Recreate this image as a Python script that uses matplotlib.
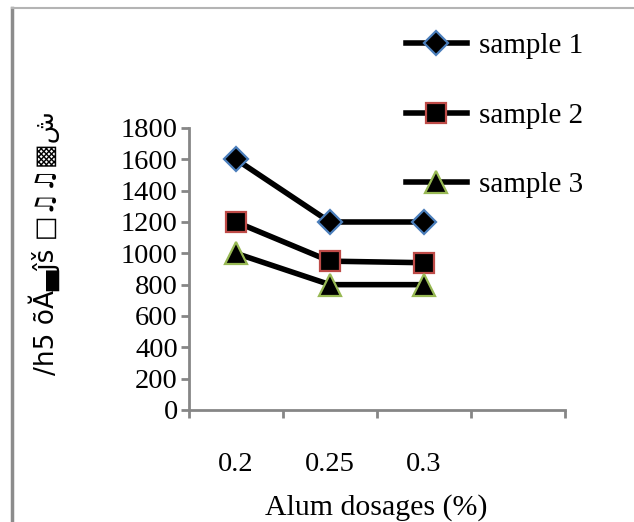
import numpy as np
import matplotlib.pyplot as plt
from matplotlib.lines import Line2D

# data
dosages = ['0.2', '0.25', '0.3']
sample1 = [1600, 1200, 1200]
sample2 = [1200, 950, 940]
sample3 = [1000, 800, 800]
y_label = '/h5 õĂ▄ĵš □♫♫▩ش'

plt.rcParams['font.family'] = ['Liberation Serif', 'DejaVu Sans']

fig = plt.figure(figsize=(6.34, 5.22), dpi=100)
ax = fig.add_axes([0.298, 0.2146, 0.593, 0.5402])

x = np.arange(len(dosages))
ax.plot(x, sample1, color='black', lw=4.0, marker='D', ms=12.5,
        mfc='black', mec='#4a7ebb', mew=1.6, label='sample 1', zorder=3)
ax.plot(x, sample2, color='black', lw=4.0, marker='s', ms=15,
        mfc='black', mec='#be4b48', mew=1.6, label='sample 2', zorder=3)
ax.plot(x, sample3, color='black', lw=4.0, marker='^', ms=16,
        mfc='black', mec='#98b954', mew=1.6, label='sample 3', zorder=3)

# one empty category on the right, like the original
ax.set_xlim(-0.5, len(dosages) + 0.5)
ax.set_ylim(0, 1800)
ax.set_yticks(range(0, 1801, 200))
ax.set_xticks(np.arange(-0.5, len(dosages) + 1, 1.0))
ax.set_xticklabels([])
ax.set_xticks(x, minor=True)
ax.set_xticklabels(dosages, minor=True)

for s in ['top', 'right']:
    ax.spines[s].set_visible(False)
for s in ['left', 'bottom']:
    ax.spines[s].set_color('#868686')
    ax.spines[s].set_linewidth(2)
ax.tick_params(axis='both', which='major', color='#868686', width=2,
               length=6, labelsize=20.5)
ax.tick_params(axis='y', pad=2)
ax.tick_params(axis='x', which='minor', length=0, labelsize=20.5, pad=30)

fig.text(0.594, 0.027, 'Alum dosages (%)', ha='center', va='center', fontsize=21.5)
fig.text(0.07, 0.535, y_label, rotation=90, ha='center', va='center',
         fontsize=19, family=['DejaVu Sans'])

ax.legend(loc='upper left', bbox_to_anchor=(0.64, 0.937),
          bbox_transform=fig.transFigure, frameon=False, fontsize=21,
          handlelength=2.1, handletextpad=0.4, labelspacing=1.48,
          borderaxespad=0, borderpad=0)

# frame of the cropped page
fig.add_artist(Line2D([0.019, 0.019], [0, 0.985], color='#8c8c8c', lw=2.5,
                      transform=fig.transFigure))
fig.add_artist(Line2D([0.019, 1.0], [0.985, 0.985], color='#b4b4b4', lw=1.5,
                      transform=fig.transFigure))

fig.savefig('out.png', dpi=100)
